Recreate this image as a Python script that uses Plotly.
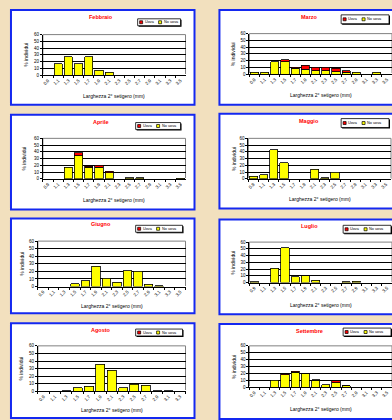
import plotly.graph_objects as go

# Width classes of the 2nd setiger (mm)
categories = ["0,9", "1,1", "1,3", "1,5", "1,7", "1,9", "2,1",
              "2,3", "2,5", "2,7", "2,9", "3,1", "3,3", "3,5"]
categories_agosto = categories[:13]

months = ["Febbraio", "Marzo", "Aprile", "Maggio",
          "Giugno", "Luglio", "Agosto", "Settembre"]

# % of individuals without eggs ("No uova") and with eggs ("Uova")
feb_no = [0, 17, 27, 17, 27, 7, 4, 0, 0, 0, 0, 0, 0, 0]
feb_uova = [0] * 14
mar_no = [3, 2.5, 18.5, 18, 9, 7.5, 5, 5, 3.5, 3, 2.5, 0, 2.5, 0]
mar_uova = [0, 0, 0, 3.5, 1, 6, 5, 5, 5, 2, 0, 0, 0, 0]
apr_no = [0, 0, 17, 34, 17, 17, 9, 0, 1.5, 1.5, 0, 0, 0, 1]
apr_uova = [0, 0, 0, 5, 2, 3, 2, 0, 0, 0, 0, 0, 0, 0]
mag_no = [4, 6, 43, 24, 0, 0, 14, 2, 10, 0, 0, 0, 0, 0]
mag_uova = [0] * 14
giu_no = [0, 0, 0, 4, 8, 26.5, 11, 6, 21, 20.5, 3, 1, 0, 0]
giu_uova = [0] * 14
lug_no = [1, 0, 21, 51.5, 9, 10, 3.5, 0, 0, 1, 2, 0, 0, 0]
lug_uova = [0] * 14
ago_no = [0, 0, 1, 5, 7, 36, 28, 5, 9, 8, 1, 1, 0]
ago_uova = [0] * 13
set_no = [0, 0, 10, 18.5, 22, 19.5, 10.5, 3.5, 6.5, 2, 0, 0, 0, 0]
set_uova = [0, 0, 0, 1, 1.5, 0.5, 0.5, 0, 3, 0.5, 0, 0, 0, 0]

series = [
    (categories, feb_no, feb_uova),
    (categories, mar_no, mar_uova),
    (categories, apr_no, apr_uova),
    (categories, mag_no, mag_uova),
    (categories, giu_no, giu_uova),
    (categories, lug_no, lug_uova),
    (categories_agosto, ago_no, ago_uova),
    (categories, set_no, set_uova),
]

W, H = 392, 420
FONT = "Liberation Sans, Arial, sans-serif"
YELLOW = "#FFFF00"
RED = "#FF0000"
BLUE = "#1428F0"

# page layout in pixels: panel box (left, top) and plot area (x0, x1, y0, y1)
panel_boxes = [(10, 8), (219, 8), (10, 114), (219, 113),
               (10, 219), (219, 220), (10, 325), (219, 326)]
plot_rects = [(42, 185, 33, 74), (249, 392, 32, 73),
              (42, 185, 138, 179), (248, 391, 138, 179),
              (37, 185, 242, 288), (249, 392, 243, 284),
              (37, 185, 348, 394), (249, 392, 348, 390)]
title_pos = [(100, 15), (309, 15), (100, 121), (309, 120),
             (100, 225), (309, 227), (100, 332), (309, 333)]
legend_boxes = [(137, 180, 17, 24), (341, 389, 13, 22),
                (135, 180, 122, 129), (341, 389, 118, 127),
                (135, 182, 226, 233), (343, 391, 226, 234),
                (135, 182, 331, 338), (343, 391, 330, 338)]
xtitle_y = [95, 94, 200, 199, 308, 307, 413, 412]
ytitle_x = [25, 232, 23, 233, 21, 233, 20, 233]
PANEL_W, PANEL_H = 184, 96


def px(x):
    return x / W


def py(y):
    return 1 - y / H


def label(text, x, y, size, color="black", angle=0, xanchor="center"):
    return dict(text=text, x=px(x), y=py(y), xref="paper", yref="paper",
                xanchor=xanchor, yanchor="middle", showarrow=False,
                textangle=angle, borderpad=0,
                font=dict(size=size, color=color, family=FONT))


fig = go.Figure()
shapes = []
annotations = []
layout = {}

for i, (month, (cats, no, uova)) in enumerate(zip(months, series)):
    n = "" if i == 0 else str(i + 1)
    xa, ya = "x" + n, "y" + n
    no_vals = [v if v else None for v in no]
    uova_vals = [v if v else None for v in uova]
    fig.add_trace(go.Bar(x=cats, y=no_vals, name="No uova", xaxis=xa, yaxis=ya,
                         marker=dict(color=YELLOW, line=dict(color="black", width=0.8)),
                         showlegend=False))
    fig.add_trace(go.Bar(x=cats, y=uova_vals, name="Uova", xaxis=xa, yaxis=ya,
                         marker=dict(color=RED, line=dict(color="black", width=0.8)),
                         showlegend=False))

    x0, x1, y0, y1 = plot_rects[i]
    layout["xaxis" + n] = dict(
        domain=[px(x0), min(px(x1), 1)], anchor=ya, type="category",
        categoryorder="array", categoryarray=cats, tickangle=-45,
        tickson="boundaries", ticks="outside", ticklen=2, tickwidth=0.8,
        tickcolor="black", showline=True, linecolor="black", linewidth=1,
        showgrid=False, tickfont=dict(size=4.5, color="black", family=FONT),
        fixedrange=True)
    layout["yaxis" + n] = dict(
        domain=[py(y1), py(y0)], anchor=xa, range=[0, 60], dtick=10,
        ticks="outside", ticklen=2, tickwidth=0.8, tickcolor="black",
        showline=True, linecolor="black", linewidth=1,
        showgrid=True, gridcolor="black", gridwidth=0.8,
        tickfont=dict(size=4.5, color="black", family=FONT), fixedrange=True)

    # panel frame
    bx, by = panel_boxes[i]
    shapes.append(dict(type="rect", xref="paper", yref="paper", layer="below",
                       x0=px(bx), x1=px(bx + PANEL_W), y0=py(by + PANEL_H), y1=py(by),
                       fillcolor="white", line=dict(color=BLUE, width=2)))
    # plot-area border
    shapes.append(dict(type="rect", xref=xa + " domain", yref=ya + " domain",
                       x0=0, x1=1, y0=0, y1=1, layer="below",
                       line=dict(color="#808080", width=1)))

    # title
    tx, ty = title_pos[i]
    annotations.append(label("<b>" + month + "</b>", tx, ty, 5.5, color=RED))
    # axis titles
    annotations.append(label("Larghezza 2° setigero (mm)", (x0 + x1) / 2, xtitle_y[i], 5))
    annotations.append(label("% individui", ytitle_x[i], (y0 + y1) / 2, 5, angle=-90))

    # legend box with shadow
    lx0, lx1, ly0, ly1 = legend_boxes[i]
    shapes.append(dict(type="rect", xref="paper", yref="paper",
                       x0=px(lx0 + 1), x1=px(lx1 + 1), y0=py(ly1 + 1), y1=py(ly0 + 1),
                       fillcolor="black", line=dict(width=0)))
    shapes.append(dict(type="rect", xref="paper", yref="paper",
                       x0=px(lx0), x1=px(lx1), y0=py(ly1), y1=py(ly0),
                       fillcolor="white", line=dict(color="black", width=0.8)))
    cy = (ly0 + ly1) / 2
    for sx, col, text in [(lx0 + 2, RED, "Uova"), (lx0 + 21, YELLOW, "No uova")]:
        shapes.append(dict(type="rect", xref="paper", yref="paper",
                           x0=px(sx), x1=px(sx + 3), y0=py(cy + 1.5), y1=py(cy - 1.5),
                           fillcolor=col, line=dict(color="black", width=0.7)))
        annotations.append(label(text, sx + 4, cy, 3.8, xanchor="left"))

fig.update_layout(
    width=W, height=H, margin=dict(l=0, r=0, t=0, b=0),
    paper_bgcolor="#F2E0BE", plot_bgcolor="white",
    barmode="stack", bargap=0.2, font=dict(family=FONT, color="black"),
    shapes=shapes, annotations=annotations, **layout)

fig.write_html("out.html", config={"displayModeBar": False})
